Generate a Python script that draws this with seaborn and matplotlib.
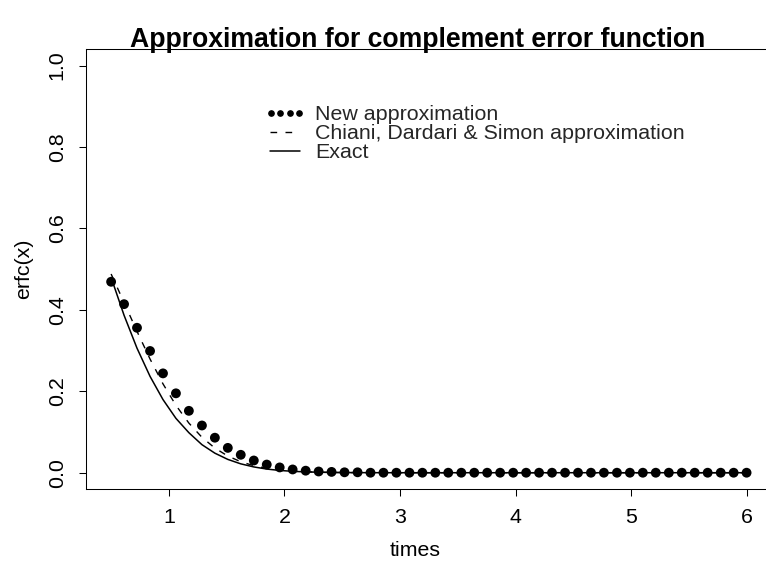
import numpy as np
import pandas as pd
import matplotlib
matplotlib.use("Agg")
import matplotlib.pyplot as plt
import seaborn as sns
from matplotlib.lines import Line2D
from matplotlib.legend_handler import HandlerLine2D

# ---------------- data ----------------
times = [0.500, 0.612, 0.724, 0.837, 0.949, 1.061, 1.173, 1.286, 1.398, 1.510,
         1.622, 1.735, 1.847, 1.959, 2.071, 2.184, 2.296, 2.408, 2.520, 2.633,
         2.745, 2.857, 2.969, 3.082, 3.194, 3.306, 3.418, 3.531, 3.643, 3.755,
         3.867, 3.980, 4.092, 4.204, 4.316, 4.429, 4.541, 4.653, 4.765, 4.878,
         4.990, 5.102, 5.214, 5.327, 5.439, 5.551, 5.663, 5.776, 5.888, 6.000]

new_approx = [0.469, 0.414, 0.356, 0.299, 0.244, 0.195, 0.152, 0.116, 0.086, 0.061,
              0.044, 0.030, 0.020, 0.013, 0.008, 0.005, 0.003, 0.002, 0.001, 0.001,
              0.0, 0.0, 0.0, 0.0, 0.0, 0.0, 0.0, 0.0, 0.0, 0.0,
              0.0, 0.0, 0.0, 0.0, 0.0, 0.0, 0.0, 0.0, 0.0, 0.0,
              0.0, 0.0, 0.0, 0.0, 0.0, 0.0, 0.0, 0.0, 0.0, 0.0]

chiani = [0.4881, 0.4180, 0.3472, 0.2792, 0.2182, 0.1655, 0.1219, 0.0870, 0.0605, 0.0410,
          0.0270, 0.0172, 0.0108, 0.0066, 0.0039, 0.0023, 0.0013, 0.0007, 0.0004, 0.0002,
          0.0001, 0.0, 0.0, 0.0, 0.0, 0.0, 0.0, 0.0, 0.0, 0.0,
          0.0, 0.0, 0.0, 0.0, 0.0, 0.0, 0.0, 0.0, 0.0, 0.0,
          0.0, 0.0, 0.0, 0.0, 0.0, 0.0, 0.0, 0.0, 0.0, 0.0]

exact = [0.4795, 0.3867, 0.3059, 0.2366, 0.1796, 0.1335, 0.0983, 0.0689, 0.0480, 0.0327,
         0.0218, 0.0142, 0.0090, 0.0056, 0.0034, 0.0020, 0.0012, 0.0006, 0.0004, 0.0002,
         0.0001, 0.0, 0.0, 0.0, 0.0, 0.0, 0.0, 0.0, 0.0, 0.0,
         0.0, 0.0, 0.0, 0.0, 0.0, 0.0, 0.0, 0.0, 0.0, 0.0,
         0.0, 0.0, 0.0, 0.0, 0.0, 0.0, 0.0, 0.0, 0.0, 0.0]

x_ticks = [1, 2, 3, 4, 5, 6]
y_ticks = [0.0, 0.2, 0.4, 0.6, 0.8, 1.0]
y_tick_labels = ["0.0", "0.2", "0.4", "0.6", "0.8", "1.0"]

title = "Approximation for complement error function"
x_label = "times"
y_label = "erfc(x)"
legend_labels = ["New approximation", "Chiani, Dardari & Simon approximation", "Exact"]

df = pd.DataFrame({"times": times, "new": new_approx, "chiani": chiani, "exact": exact})

# ---------------- style ----------------
sns.set_theme(style="white")
plt.rcParams["font.family"] = ["Liberation Sans", "DejaVu Sans"]
plt.rcParams["axes.linewidth"] = 0.75

W, H = 766, 571
DPI = 100
fig = plt.figure(figsize=(W / DPI, H / DPI), dpi=DPI)
fig.patch.set_facecolor("white")

left_px, right_px, top_px, bottom_px = 85.7, 772.0, 49.3, 489.0
ax = fig.add_axes([left_px / W, (H - bottom_px) / H,
                   (right_px - left_px) / W, (bottom_px - top_px) / H])
ax.set_facecolor("white")

DASH = (4.8, 6.0)

sns.lineplot(data=df, x="times", y="exact", ax=ax, color="black", linewidth=1.1,
             estimator=None, sort=False, legend=False)
sns.lineplot(data=df, x="times", y="chiani", ax=ax, color="black", linewidth=1.0,
             estimator=None, sort=False, legend=False, dashes=False)
ax.lines[-1].set_dashes(DASH)
sns.scatterplot(data=df, x="times", y="new", ax=ax, color="black", s=50,
                edgecolor="none", linewidth=0, legend=False, zorder=3)

ax.set_xlim(0.28, 6.22)
ax.set_ylim(-0.04, 1.04)
ax.set_xticks(x_ticks)
ax.set_xticklabels([str(t) for t in x_ticks])
ax.set_yticks(y_ticks)
ax.set_yticklabels(y_tick_labels, rotation=90, va="center")
ax.set_xlabel("")
ax.set_ylabel("")

fs = 15.4
ax.tick_params(axis="both", which="major", direction="out", length=5.2, width=0.75,
               color="black", labelsize=fs, labelcolor="black", bottom=True, left=True)
ax.tick_params(axis="x", pad=8.5)
ax.tick_params(axis="y", pad=8.5)
for side in ["left", "bottom", "top"]:
    ax.spines[side].set_visible(True)
    ax.spines[side].set_color("black")
    ax.spines[side].set_linewidth(0.75)
ax.spines["right"].set_visible(False)

# titles / labels in figure pixel coordinates
fig.text(418 / W, 1 - 40 / H, title, ha="center", va="center",
         fontsize=19.2, fontweight="bold", color="black")
fig.text(415 / W, 1 - 551 / H, x_label, ha="center", va="center", fontsize=fs, color="black")
fig.text(24 / W, 1 - 269 / H, y_label, ha="center", va="center", rotation=90,
         fontsize=fs, color="black")

# legend
h_new = Line2D([], [], color="black", marker="o", linestyle="none", markersize=3.8)
h_chi = Line2D([], [], color="black", linestyle=(0, DASH), linewidth=1.0)
h_ex = Line2D([], [], color="black", linestyle="-", linewidth=1.1)
leg = ax.legend([h_new, h_chi, h_ex], legend_labels,
                handler_map={h_new: HandlerLine2D(numpoints=4, marker_pad=0.05)},
                loc="upper left", bbox_to_anchor=(270 / W, 1 - 105 / H),
                bbox_transform=fig.transFigure, frameon=False, fontsize=fs,
                handlelength=1.4, handletextpad=0.7, labelspacing=0.0,
                borderpad=0, borderaxespad=0)

fig.savefig("out.png", dpi=DPI, facecolor="white")
